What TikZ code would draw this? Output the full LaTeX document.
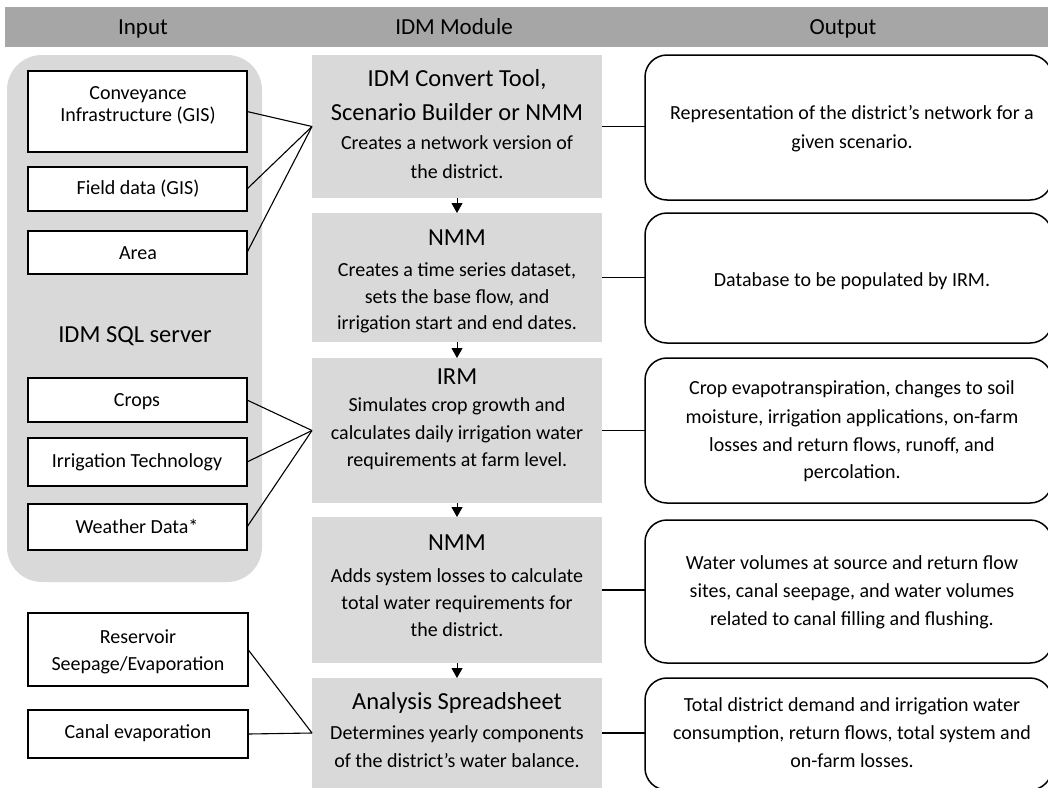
\documentclass[tikz,border=0pt]{standalone}
\usepackage{fontspec}
\setmainfont{Carlito}
\usetikzlibrary{arrows.meta}
\definecolor{hdrgray}{HTML}{A6A6A6}
\definecolor{boxgray}{HTML}{D9D9D9}
\newcommand\fsz[1]{\fontsize{#1}{#1}\selectfont}
\begin{document}
\begin{tikzpicture}[x=1pt,y=-1pt,
  box/.style={rectangle, anchor=north west, inner sep=0pt, outer sep=0pt},
  inbox/.style={box, draw=black, line width=1.3pt, fill=white},
  midbox/.style={box, fill=boxgray},
  outbox/.style={box, draw=black, line width=1.5pt, rounded corners=22pt, fill=white},
  txt/.style={anchor=base, inner sep=0pt, text=black},
  body/.style={txt, font=\fsz{20}},
  title/.style={txt, font=\fsz{24.5}},
  conn/.style={draw=black, line width=1.1pt},
  flow/.style={draw=black, line width=1pt, -{Triangle[width=11pt,length=10pt]}}
]
\clip (0,0) rectangle (1048,787);
\fill[white] (0,0) rectangle (1048,787);

% header
\node[box, fill=hdrgray, minimum width=1050pt, minimum height=40pt] (hdr) at (5,7) {};
\node[txt, font=\fsz{23}] (hin) at (143,34) {Input};
\node[txt, font=\fsz{23}] (hmid) at (454,34) {IDM Module};
\node[txt, font=\fsz{23}] (hout) at (843,34) {Output};

% SQL server background
\node[box, fill=boxgray, rounded corners=35pt, minimum width=255pt, minimum height=527pt] (sql) at (7,55) {};
\node[title] (sqlt) at (135,342) {IDM SQL server};

% input boxes
\node[inbox, minimum width=219pt, minimum height=81pt] (conv) at (28,71) {};
\node[inbox, minimum width=219pt, minimum height=44pt] (field) at (28,167) {};
\node[inbox, minimum width=219pt, minimum height=43pt] (area) at (28,231) {};
\node[inbox, minimum width=219pt, minimum height=44pt] (crops) at (28,378) {};
\node[inbox, minimum width=219pt, minimum height=48pt] (irrig) at (28,438) {};
\node[inbox, minimum width=219pt, minimum height=46pt] (weath) at (28,504) {};
\node[inbox, minimum width=220pt, minimum height=73pt] (resv) at (28,613) {};
\node[inbox, minimum width=220pt, minimum height=48pt] (canal) at (28,710) {};

\node[body] (t1) at (138,99) {Conveyance};
\node[body] (t2) at (138,121) {Infrastructure (GIS)};
\node[body] (t3) at (138,194) {Field data (GIS)};
\node[body] (t4) at (138,259) {Area};
\node[body] (t5) at (137,406) {Crops};
\node[body] (t6) at (137,467) {Irrigation Technology};
\node[body] (t7) at (137,533) {Weather Data*};
\node[body] (t8) at (138,643) {Reservoir};
\node[body] (t9) at (138,670) {Seepage/Evaporation};
\node[body] (t10) at (138,738) {Canal evaporation};

% middle boxes
\node[midbox, minimum width=290pt, minimum height=143pt] (m1) at (312,55) {};
\node[midbox, minimum width=290pt, minimum height=129pt] (m2) at (312,213) {};
\node[midbox, minimum width=290pt, minimum height=145pt] (m3) at (312,358) {};
\node[midbox, minimum width=290pt, minimum height=146pt] (m4) at (312,517) {};
\node[midbox, minimum width=290pt, minimum height=110pt] (m5) at (312,678) {};

\node[title] (a1) at (457,86) {IDM Convert Tool,};
\node[title] (a2) at (457,120) {Scenario Builder or NMM};
\node[body] (a3) at (457,149) {Creates a network version of};
\node[body] (a4) at (457,178) {the district.};

\node[title] (b1) at (457,245) {NMM};
\node[body] (b2) at (457,276) {Creates a time series dataset,};
\node[body] (b3) at (457,303) {sets the base flow, and};
\node[body] (b4) at (457,329) {irrigation start and end dates.};

\node[title] (c1) at (457,384) {IRM};
\node[body] (c2) at (457,411) {Simulates crop growth and};
\node[body] (c3) at (457,439) {calculates daily irrigation water};
\node[body] (c4) at (457,466) {requirements at farm level.};

\node[title] (d1) at (457,550) {NMM};
\node[body] (d2) at (457,582) {Adds system losses to calculate};
\node[body] (d3) at (457,609) {total water requirements for};
\node[body] (d4) at (457,636) {the district.};

\node[title] (e1) at (457,709) {Analysis Spreadsheet};
\node[body] (e2) at (457,739) {Determines yearly components};
\node[body] (e3) at (457,767) {of the district’s water balance.};

% output boxes
\node[outbox, minimum width=407pt, minimum height=145pt] (o1) at (645,55) {};
\node[outbox, minimum width=407pt, minimum height=130pt] (o2) at (645,213) {};
\node[outbox, minimum width=407pt, minimum height=145pt] (o3) at (645,358) {};
\node[outbox, minimum width=407pt, minimum height=143pt] (o4) at (645,520) {};
\node[outbox, minimum width=407pt, minimum height=112pt] (o5) at (645,678) {};

\node[body] (p1) at (852,119) {Representation of the district’s network for a};
\node[body] (p2) at (852,148) {given scenario.};
\node[body] (q1) at (852,286) {Database to be populated by IRM.};
\node[body] (r1) at (852,394) {Crop evapotranspiration, changes to soil};
\node[body] (r2) at (852,423) {moisture, irrigation applications, on-farm};
\node[body] (r3) at (852,451) {losses and return flows, runoff, and};
\node[body] (r4) at (852,478) {percolation.};
\node[body] (s1) at (852,569) {Water volumes at source and return flow};
\node[body] (s2) at (852,597) {sites, canal seepage, and water volumes};
\node[body] (s3) at (852,625) {related to canal filling and flushing.};
\node[body] (u1) at (852,711) {Total district demand and irrigation water};
\node[body] (u2) at (852,739) {consumption, return flows, total system and};
\node[body] (u3) at (852,767) {on-farm losses.};

% connectors
\draw[conn] (conv.east) -- (m1.west);
\draw[conn] (field.east) -- (m1.west);
\draw[conn] (area.east) -- (m1.west);
\draw[conn] (crops.east) -- (m3.west);
\draw[conn] (irrig.east) -- (m3.west);
\draw[conn] (weath.east) -- (m3.west);
\draw[conn] (resv.east) -- (m5.west);
\draw[conn] (canal.east) -- (m5.west);

\draw[conn] (m1.east) -- (m1.east -| o1.west);
\draw[conn] (m2.east) -- (m2.east -| o2.west);
\draw[conn] (m3.east) -- (m3.east -| o3.west);
\draw[conn] (m4.east) -- (m4.east -| o4.west);
\draw[conn] (m5.east) -- (m5.east -| o5.west);

\draw[flow] (m1.south) -- (m2.north);
\draw[flow] (m2.south) -- (m3.north);
\draw[flow] (m3.south) -- (m4.north);
\draw[flow] (m4.south) -- (m5.north);
\end{tikzpicture}
\end{document}
